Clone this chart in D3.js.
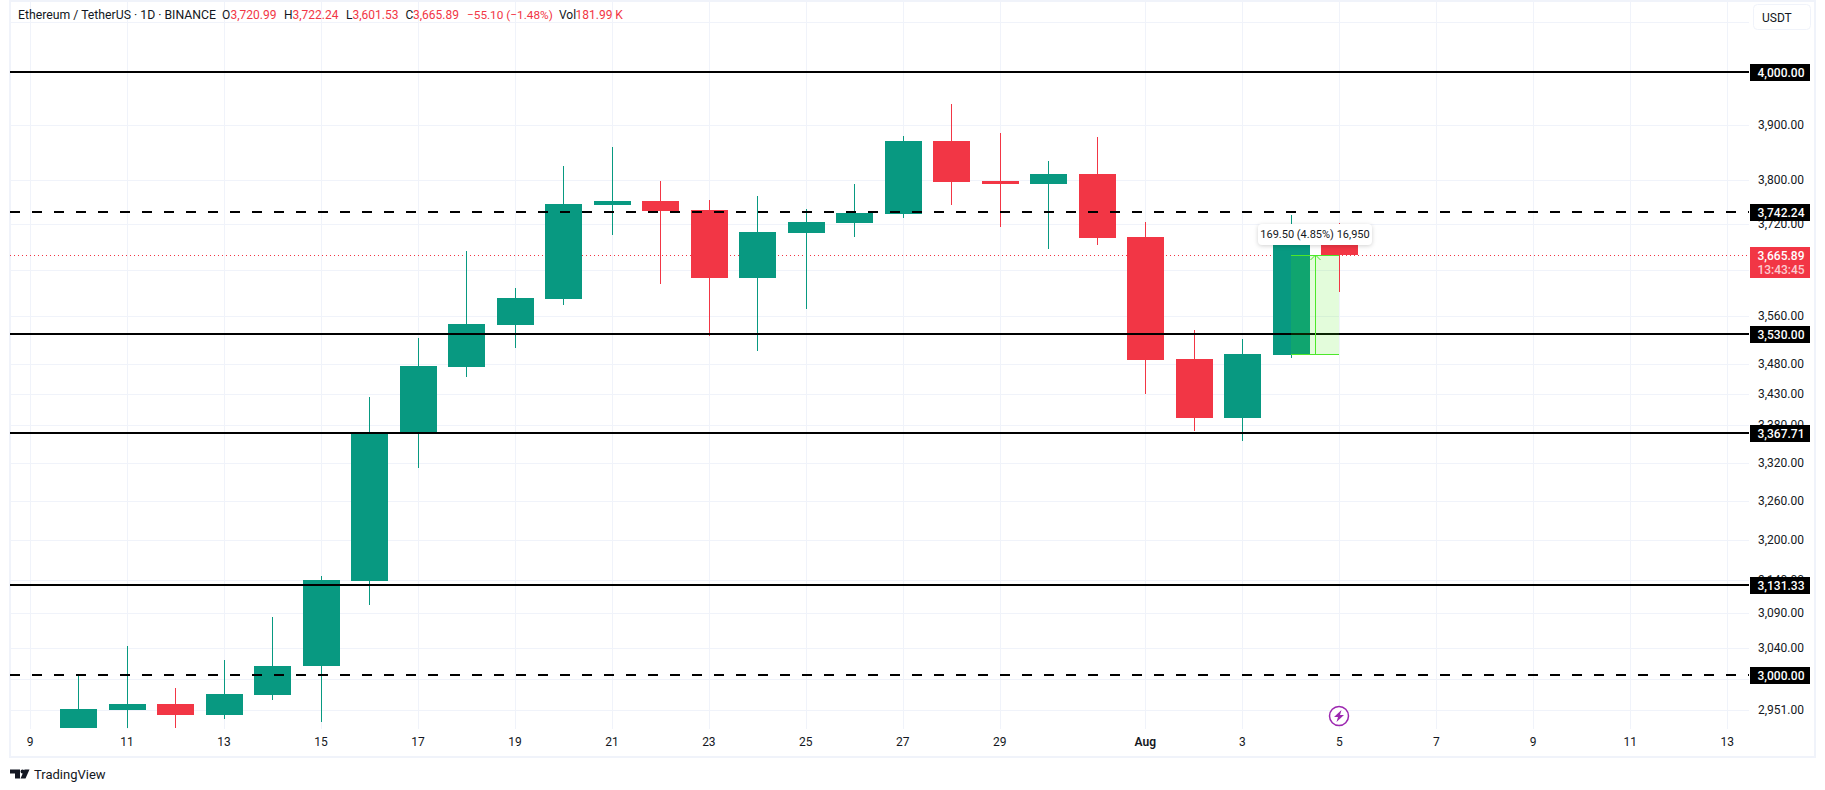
<!DOCTYPE html>
<html>
<head>
<meta charset="utf-8">
<script src="https://cdn.jsdelivr.net/npm/d3@7"></script>
<style>
  html, body { margin: 0; padding: 0; background: #fff; }
  svg { display: block; }
  text { font-family: Roboto, "Noto Sans", sans-serif; font-size: 12px; fill: #131722; }
</style>
</head>
<body>
<div id="chart"></div>
<script>
//candles
const days = ["2025-07-10","2025-07-11","2025-07-12","2025-07-13","2025-07-14","2025-07-15","2025-07-16","2025-07-17","2025-07-18",
  "2025-07-19","2025-07-20","2025-07-21","2025-07-22","2025-07-23","2025-07-24","2025-07-25","2025-07-26","2025-07-27","2025-07-28",
  "2025-07-29","2025-07-30","2025-07-31","2025-08-01","2025-08-02","2025-08-03","2025-08-04","2025-08-05"];
const opens = [2925,2951,2959,2944,2972,3013,3137.5,3368,3475.5,3546,3590,3754,3761,3745,3626,3704,3722,3738,3870,3797,3792,3810,3697,3489,3392,3495,3720.99];
const highs = [3002,3042,2982,3022,3084,3145,3425,3524,3673,3609,3824,3859,3797,3763,3770,3747,3792,3879,3939,3885,3834,3877,3724,3537,3522,3736,3722.24];
const lows = [2925,2925,2925,2938,2965,2934,3102,3311,3459,3507,3580,3701,3616,3527,3502,3573,3697,3731,3754,3715,3676,3683,3431,3370,3355,3490,3601.53];
const closes = [2952,2959,2944,2973,3014,3139,3368,3477,3547,3592,3756,3761,3743,3626,3706,3724,3740,3870,3795,3792,3810,3696,3487,3392,3497,3721,3665.89];

//price axis
const priceTicks = [3900,3800,3720,3640,3560,3480,3430,3380,3320,3260,3200,3140,3090,3040,2951];
const hiddenGrid = [4096,2995]; //grid lines whose labels sit under the button and the 3,000 tag
const solidLevels = [4000,3530,3367.71,3131.33];
const dashedLevels = [3742.24,3000];
const lastPrice = 3665.89;
const countdown = "13:43:45";

//time axis
const timeTicks = ["2025-07-09","2025-07-11","2025-07-13","2025-07-15","2025-07-17","2025-07-19","2025-07-21","2025-07-23","2025-07-25",
  "2025-07-27","2025-07-29","2025-08-01","2025-08-03","2025-08-05","2025-08-07","2025-08-09","2025-08-11","2025-08-13"];

//price range measure tool
const measureDays = ["2025-08-04","2025-08-05"];
const measurePrices = [3496.39,3665.89];
const measureLabel = "169.50 (4.85%) 16,950";

const headerParts = [
  {x: 18, text: "Ethereum / TetherUS · 1D · BINANCE", size: 12.25},
  {x: 222, text: "O"}, {x: 230.5, text: "3,720.99", red: true},
  {x: 284, text: "H"}, {x: 292.5, text: "3,722.24", red: true},
  {x: 346, text: "L"}, {x: 352.5, text: "3,601.53", red: true},
  {x: 405.5, text: "C"}, {x: 413, text: "3,665.89", red: true},
  {x: 467, text: "−55.10 (−1.48%)", red: true, size: 11.8},
  {x: 559, text: "Vol"}, {x: 575.5, text: "181.99 K", red: true}
];

const green = "#089981", red = "#f23645", gridColor = "#f0f3fa";
const paneLeft = 10, paneRight = 1749, paneBottom = 729;

const parseDay = d3.utcParse("%Y-%m-%d");
const candles = days.map((d, i) => ({date: parseDay(d), o: opens[i], h: highs[i], l: lows[i], c: closes[i]}));

const svg = d3.select("#chart").append("svg").attr("width", 1825).attr("height", 790);

const x = d3.scaleUtc().domain([parseDay("2025-07-09"), parseDay("2025-08-13")]).range([30.3, 1727.5]);
const y = d3.scaleLog().domain([4000, 3000]).range([71.7, 675]);
const py = v => Math.round(y(v) + 0.3);
const px = d => Math.floor(x(d));

svg.append("defs").append("clipPath").attr("id", "pane")
  .append("rect").attr("x", paneLeft).attr("y", 0).attr("width", paneRight - paneLeft).attr("height", paneBottom);

//outer frame
svg.append("rect").attr("x", 10).attr("y", 1).attr("width", 1805).attr("height", 756)
  .attr("fill", "none").attr("stroke", gridColor).attr("stroke-width", 2);

const pane = svg.append("g").attr("clip-path", "url(#pane)").attr("shape-rendering", "crispEdges");

//grid
pane.selectAll(".hgrid").data(priceTicks.concat(hiddenGrid)).join("line")
  .attr("x1", paneLeft).attr("x2", paneRight)
  .attr("y1", d => py(d) + 0.5).attr("y2", d => py(d) + 0.5)
  .attr("stroke", gridColor);
pane.selectAll(".vgrid").data(timeTicks).join("line")
  .attr("x1", d => px(parseDay(d)) + 0.5).attr("x2", d => px(parseDay(d)) + 0.5)
  .attr("y1", 0).attr("y2", paneBottom)
  .attr("stroke", gridColor);

//last price line
pane.append("line").attr("x1", paneLeft).attr("x2", paneRight)
  .attr("y1", py(lastPrice) + 0.5).attr("y2", py(lastPrice) + 0.5)
  .attr("stroke", red).attr("stroke-dasharray", "1 3");

//candles
const color = d => d.c >= d.o ? green : red;
pane.selectAll(".wick").data(candles).join("rect")
  .attr("x", d => px(d.date))
  .attr("width", 1)
  .attr("y", d => py(d.h))
  .attr("height", d => py(d.l) - py(d.h))
  .attr("fill", color);
pane.selectAll(".body").data(candles).join("rect")
  .attr("x", d => px(d.date) - 18)
  .attr("width", 37)
  .attr("y", d => py(Math.max(d.o, d.c)))
  .attr("height", d => Math.max(1, py(Math.min(d.o, d.c)) - py(Math.max(d.o, d.c))))
  .attr("fill", color);

//horizontal levels
pane.selectAll(".solid").data(solidLevels).join("rect")
  .attr("x", paneLeft).attr("width", paneRight - paneLeft)
  .attr("y", d => py(d) - 1).attr("height", 2).attr("fill", "#000");
pane.selectAll(".dashed").data(dashedLevels).join("line")
  .attr("x1", paneLeft).attr("x2", paneRight)
  .attr("y1", d => py(d)).attr("y2", d => py(d))
  .attr("stroke", "#000").attr("stroke-width", 2).attr("stroke-dasharray", "10 12");

//measure tool
const mx0 = px(parseDay(measureDays[0])), mx1 = px(parseDay(measureDays[1]));
const my0 = py(measurePrices[1]), my1 = py(measurePrices[0]);
const mid = Math.round((mx0 + mx1) / 2);
const toolGreen = "#4ce82a";
const tool = svg.append("g");
tool.append("rect").attr("x", mx0).attr("y", my0).attr("width", mx1 - mx0).attr("height", my1 - my0)
  .attr("fill", "rgba(70,235,15,0.15)").attr("shape-rendering", "crispEdges");
[my0, my1].forEach(v => {
  tool.append("line").attr("x1", mx0).attr("x2", mx1).attr("y1", v + 0.5).attr("y2", v + 0.5)
    .attr("stroke", toolGreen).attr("shape-rendering", "crispEdges");
});
tool.append("line").attr("x1", mid + 0.5).attr("x2", mid + 0.5).attr("y1", my0).attr("y2", my1)
  .attr("stroke", toolGreen).attr("shape-rendering", "crispEdges");
tool.append("path").attr("d", `M${mid - 4.5},${my0 + 5}L${mid + 0.5},${my0}L${mid + 5.5},${my0 + 5}`)
  .attr("fill", "none").attr("stroke", toolGreen);
tool.append("rect").attr("x", mid - 57).attr("y", my0 - 31).attr("width", 114).attr("height", 21).attr("rx", 4)
  .attr("fill", "#fff").style("filter", "drop-shadow(0 1px 2px rgba(0,0,0,0.18))");
tool.append("text").attr("x", mid).attr("y", my0 - 20.5).attr("text-anchor", "middle")
  .attr("dominant-baseline", "central").style("font-size", "11px").text(measureLabel);

//axes
const yAxis = d3.axisRight(y).tickValues(priceTicks).tickFormat(d3.format(",.2f")).tickSize(0).tickPadding(9);
const yG = svg.append("g").attr("transform", `translate(${paneRight},0)`).call(yAxis);
yG.select(".domain").remove();
yG.selectAll("text").style("font-family", "Roboto, 'Noto Sans', sans-serif").style("font-size", "12px").style("fill", "#131722");

const xAxis = d3.axisBottom(x).tickValues(timeTicks.map(parseDay)).tickSize(0).tickPadding(8)
  .tickFormat(d => d.getUTCDate() === 1 ? "Aug" : d3.utcFormat("%-d")(d));
const xG = svg.append("g").attr("transform", `translate(-0.8,${paneBottom})`).call(xAxis);
xG.select(".domain").remove();
xG.selectAll("text").style("font-family", "Roboto, 'Noto Sans', sans-serif").style("font-size", "12px").style("fill", "#131722")
  .style("font-weight", d => d.getUTCDate() === 1 ? 600 : 400);

//price tags
const tagX = 1750, tagW = 60, tagH = 17, tagCx = 1781;
solidLevels.concat(dashedLevels).forEach(v => {
  svg.append("rect").attr("x", tagX).attr("y", py(v) - 8).attr("width", tagW).attr("height", tagH).attr("fill", "#000");
  svg.append("text").attr("x", tagCx).attr("y", py(v) + 0.5).attr("text-anchor", "middle").attr("dominant-baseline", "central")
    .style("fill", "#fff").style("font-weight", 500).text(d3.format(",.2f")(v));
});
svg.append("rect").attr("x", tagX).attr("y", py(lastPrice) - 8).attr("width", tagW).attr("height", 31).attr("fill", red);
svg.append("text").attr("x", tagCx).attr("y", py(lastPrice) + 0.5).attr("text-anchor", "middle").attr("dominant-baseline", "central")
  .style("fill", "#fff").style("font-weight", 500).text(d3.format(",.2f")(lastPrice));
svg.append("text").attr("x", tagCx).attr("y", py(lastPrice) + 14.5).attr("text-anchor", "middle").attr("dominant-baseline", "central")
  .style("fill", "#fff").style("fill-opacity", 0.75).style("font-weight", 500).text(countdown);

//currency button
svg.append("rect").attr("x", 1753.5).attr("y", 4.5).attr("width", 57).attr("height", 25).attr("rx", 4)
  .attr("fill", "#fff").attr("stroke", gridColor);
svg.append("text").attr("x", 1762).attr("y", 17.5).attr("dominant-baseline", "central").text("USDT");

//header
svg.selectAll(".hdr").data(headerParts).join("text")
  .attr("x", d => d.x).attr("y", 15).attr("dominant-baseline", "central")
  .style("fill", d => d.red ? red : "#131722")
  .style("font-size", d => (d.size || 12) + "px")
  .text(d => d.text);

//earnings style icon on the time axis
const icon = svg.append("g").attr("transform", `translate(${px(parseDay("2025-08-05"))},716)`);
icon.append("circle").attr("r", 9.5).attr("fill", "#fff").attr("stroke", "#9c27b0").attr("stroke-width", 1.5);
icon.append("path").attr("d", "M2.5,-6L-5,1H-1L-2.5,6L5,-1H1Z").attr("fill", "#9c27b0");

//logo
svg.append("path").attr("transform", "translate(10,769.5)")
  .attr("d", "M0,0H10V9H5V4H0ZM10.5,2a2,2 0 1,1 4,0a2,2 0 1,1 -4,0ZM14.5,0H19.5L15.5,9H10.5Z")
  .attr("fill", "#131722");
svg.append("text").attr("x", 34).attr("y", 774.5).attr("dominant-baseline", "central")
  .style("font-size", "13px").text("TradingView");
</script>
</body>
</html>
